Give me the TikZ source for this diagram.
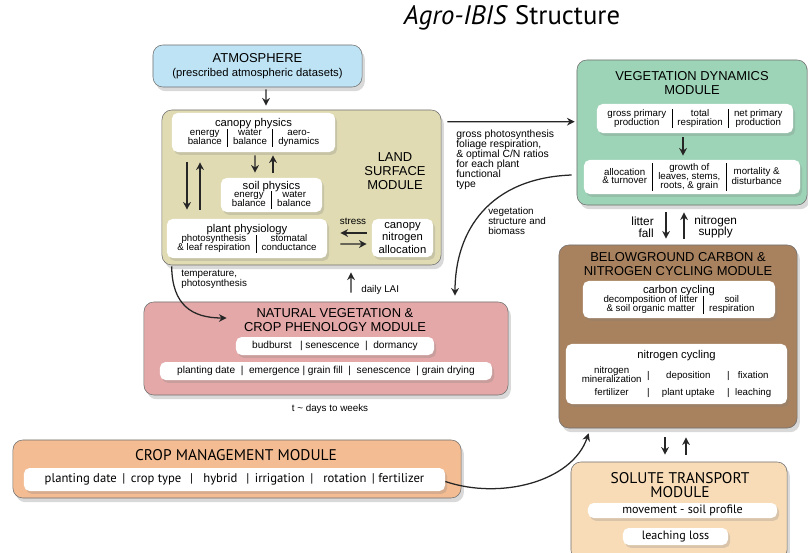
\documentclass[tikz,border=0pt]{standalone}
\usepackage{fontspec}
\setmainfont{Liberation Sans}
\newfontfamily\ptsans{PT Sans}
\usepackage{tikz}
\usetikzlibrary{arrows,arrows.meta,positioning,calc,shapes,shadows}

\definecolor{atmblue}{HTML}{BEE3F4}
\definecolor{landkhaki}{HTML}{E0DBB3}
\definecolor{veggreen}{HTML}{9DD3B7}
\definecolor{soilbrown}{HTML}{A8825F}
\definecolor{solutepeach}{HTML}{F8DCB8}
\definecolor{phenopink}{HTML}{E4A8A8}
\definecolor{croporange}{HTML}{F3BC92}
\definecolor{edgegray}{HTML}{707070}

\renewcommand{\arraystretch}{0.72}
\setlength{\tabcolsep}{4pt}
\newcommand{\subsize}{\fontsize{6.9}{7}\selectfont}
\newcommand{\stk}[1]{\begin{tabular}{@{}c@{}}#1\end{tabular}}

\begin{document}
\begin{tikzpicture}[x=0.025cm,y=-0.025cm,>={Stealth[length=5.5pt,width=5.5pt,inset=1.8pt]},
    module/.style={draw=edgegray,rounded corners=7pt,inner sep=0pt,
        drop shadow={opacity=0.3,shadow xshift=2pt,shadow yshift=-3pt}},
    wbox/.style={fill=white,rounded corners=4pt,inner sep=1pt,align=center,
        font=\fontsize{8}{8.6}\selectfont,
        drop shadow={opacity=0.25,shadow xshift=1.5pt,shadow yshift=-2pt}},
    title/.style={align=center,inner sep=0pt,font=\fontsize{9.2}{10}\selectfont},
    lbl/.style={align=left,inner sep=0pt,font=\fontsize{7}{7.2}\selectfont},
    arr/.style={->,line width=0.9pt,black!85}]
\clip (0,0) rectangle (808,552);

% Title
\node[font=\ptsans\fontsize{19}{19}\selectfont] (head) at (512,18) {\textit{Agro-IBIS} Structure};

% Modules
\node[module,fill=atmblue,minimum width=5.225cm,minimum height=1.05cm,align=center,
    font=\fontsize{9.2}{10}\selectfont] (atm) at (257.5,66)
    {ATMOSPHERE\\{\fontsize{8}{9}\selectfont(prescribed atmospheric datasets)}};
\node[module,fill=landkhaki,minimum width=6.975cm,minimum height=3.875cm] (land) at (301.5,187.5) {};
\node[module,fill=veggreen,minimum width=5.75cm,minimum height=3.625cm] (veg) at (692,132.5) {};
\node[module,fill=soilbrown,minimum width=5.95cm,minimum height=4.575cm] (below) at (678,336.5) {};
\node[module,fill=solutepeach,minimum width=5.4cm,minimum height=2.45cm] (solute) at (679,511) {};
\node[module,fill=phenopink,minimum width=9.1cm,minimum height=2.325cm] (natural) at (326,348.5) {};
\node[module,fill=croporange,minimum width=11.2cm,minimum height=1.45cm] (crop) at (237,469) {};

% Module titles
\node[title] (landtitle) at (395,171) {LAND\\SURFACE\\MODULE};
\node[title] (vegtitle) at (692,83) {VEGETATION DYNAMICS\\MODULE};
\node[title] (belowtitle) at (678,264) {BELOWGROUND CARBON \&\\NITROGEN CYCLING MODULE};
\node[title] (naturaltitle) at (335,320) {NATURAL VEGETATION \&\\CROP PHENOLOGY MODULE};
\node[title,font=\ptsans\fontsize{11}{11.5}\selectfont] (croptitle) at (236,455) {CROP MANAGEMENT MODULE};
\node[title,font=\ptsans\fontsize{11}{10.5}\selectfont] (solutetitle) at (680,485) {SOLUTE TRANSPORT\\MODULE};

% Land surface parts
\node[wbox,minimum width=4.075cm,minimum height=0.975cm] (canopy) at (253.5,132.5)
    {canopy physics\\[-1pt]{\subsize\begin{tabular}{c|c|c}energy&water&aero-\\balance&balance&dynamics\end{tabular}}};
\node[wbox,minimum width=2.525cm,minimum height=0.85cm] (soil) at (271.5,195)
    {soil physics\\[-1pt]{\subsize\begin{tabular}{c|c}energy&water\\balance&balance\end{tabular}}};
\node[wbox,minimum width=4cm,minimum height=0.975cm] (plant) at (247,238.5)
    {plant physiology\\[-1pt]{\subsize\begin{tabular}{c|c}photosynthesis&stomatal\\\& leaf respiration&conductance\end{tabular}}};
\node[wbox,minimum width=1.525cm,minimum height=0.95cm] (canopyN) at (402.5,238)
    {canopy\\nitrogen\\allocation};

% Vegetation dynamics parts
\node[wbox,minimum width=4.9cm,minimum height=0.725cm] (gpp) at (695,118.5)
    {\subsize\begin{tabular}{c|c|c}gross primary&total&net primary\\production&respiration&production\end{tabular}};
\node[wbox,minimum width=5.4cm,minimum height=0.85cm] (alloc) at (692,177)
    {\subsize\begin{tabular}{c|c|c}\stk{allocation\\\& turnover}&\stk{growth of\\leaves, stems,\\roots, \& grain}&\stk{mortality \&\\disturbance}\end{tabular}};

% Belowground parts
\node[wbox,minimum width=4.8cm,minimum height=0.925cm] (carbon) at (679,299.5)
    {carbon cycling\\[-1pt]{\subsize\begin{tabular}{c|c}\stk{decomposition of litter\\\& soil organic matter}&\stk{soil\\respiration}\end{tabular}}};
\node[wbox,minimum width=5.525cm,minimum height=1.5cm] (nitro) at (676.5,374)
    {nitrogen cycling\\[3pt]{\subsize\begin{tabular}{c@{\ \ |\quad\ }c@{\quad\ |\ \ }c}\stk{nitrogen\\mineralization}&deposition&fixation\\[6pt]fertilizer&plant uptake&leaching\end{tabular}}};

% Solute transport parts
\node[wbox,minimum width=4.725cm,minimum height=0.375cm,font=\ptsans\fontsize{8.6}{9}\selectfont] (movement) at (682.5,510.5) {movement - soil profile};
\node[wbox,minimum width=2.625cm,minimum height=0.425cm,font=\ptsans\fontsize{8.6}{9}\selectfont] (leaching) at (675.5,536.5) {leaching loss};

% Phenology parts
\node[wbox,minimum width=4.95cm,minimum height=0.45cm,font=\fontsize{7.2}{8}\selectfont] (budburst) at (335,346)
    {budburst \ \ | senescence \ | \ dormancy};
\node[wbox,minimum width=8.3cm,minimum height=0.45cm,font=\fontsize{7.2}{8}\selectfont] (planting) at (326,371)
    {planting date \ | \ emergence | grain fill \ | \ senescence \ | grain drying};
\node[lbl] (timescale) at (330,409) {t \textasciitilde\ days to weeks};

% Crop management parts
\node[wbox,minimum width=10.525cm,minimum height=0.575cm,font=\ptsans\fontsize{9}{10}\selectfont] (cropitems) at (234.5,479.5)
    {planting date \,|\, crop type \ \,| \ \ hybrid \ \,| \,irrigation \,| \ \ rotation \,| fertilizer};

% Arrows inside land surface
\draw[arr] ($(atm.south)+(8.5,2)$) -- ($(land.north)+(-35.5,-4)$);
\draw[arr] ($(canopy.south)+(1.5,3)$) -- ($(soil.north)+(-16.5,-5)$);
\draw[arr] ($(soil.north)+(1.5,-5)$) -- ($(canopy.south)+(19.5,3)$);
\draw[arr] ($(canopy.south)+(-66.5,10)$) -- ($(plant.north)+(-60,-9)$);
\draw[arr] ($(plant.north)+(-47,-9)$) -- ($(canopy.south)+(-53.5,10)$);
\draw[arr] ($(canopyN.west)+(-5,-5)$) -- ($(plant.east)+(13,-5.5)$);
\draw[arr] ($(plant.east)+(13,5.5)$) -- ($(canopyN.west)+(-5,6)$);
\node[lbl] (stress) at (353,221) {stress};

% Land surface to vegetation dynamics
\draw[arr] ($(land.north east)+(6,12)$) -- ($(veg.north west)+(-2,62)$);
\node[lbl,anchor=north west,font=\fontsize{7.4}{7}\selectfont] (fluxes) at (456,130)
    {gross photosynthesis\\foliage respiration,\\\& optimal C/N ratios\\for each plant\\functional\\type};
\draw[arr] ($(gpp.south)+(-12,4)$) -- ($(alloc.north)+(-9,-4)$);

% Vegetation dynamics to belowground
\draw[arr] ($(veg.south)+(-26,7)$) -- ($(below.north)+(-12,-6)$);
\draw[arr] ($(below.north)+(6,-6)$) -- ($(veg.south)+(-8,7)$);
\node[lbl,align=right,anchor=east,font=\fontsize{8.4}{8.4}\selectfont] (litter) at (654,227) {litter\\fall};
\node[lbl,align=center,anchor=west,font=\fontsize{8.4}{8.4}\selectfont] (supply) at (694,227) {nitrogen\\supply};

% Vegetation dynamics to phenology
\draw[arr] ($(veg.west)+(-5,42.5)$) .. controls (490,178) and (455,230) .. ($(natural.north)+(129,-6)$);
\node[lbl,anchor=north west] (structure) at (488,207) {vegetation\\structure and\\biomass};

% Land surface and phenology
\draw[arr] ($(land.south west)+(10,1)$) .. controls (172,305) and (192,318) .. ($(natural.west)+(83,-30.5)$);
\node[lbl,anchor=north west] (temp) at (181,270) {temperature,\\photosynthesis};
\draw[arr] ($(natural.north)+(25,-9)$) -- ($(land.south)+(49.5,7)$);
\node[lbl,anchor=west] (lai) at (361,290) {daily LAI};

% Crop management to belowground
\draw[arr] ($(cropitems.east)+(0,2)$) .. controls (500,500) and (572,482) .. ($(below.south west)+(30,5)$);

% Belowground and solute transport
\draw[arr] ($(below.south)+(-13,9)$) -- ($(solute.north)+(-14,-7)$);
\draw[arr] ($(solute.north)+(7,-7)$) -- ($(below.south)+(8,9)$);
\end{tikzpicture}
\end{document}
